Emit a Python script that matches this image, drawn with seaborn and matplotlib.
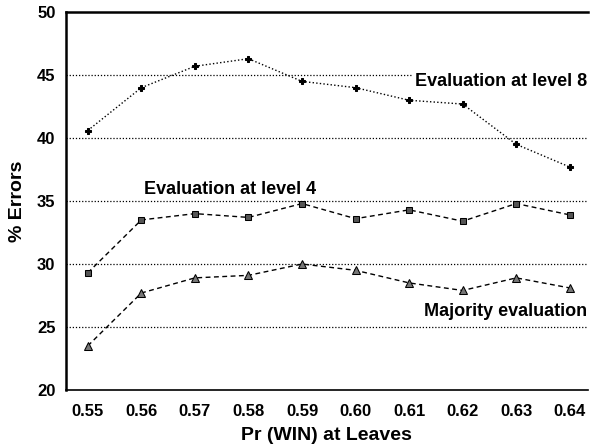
import numpy as np
import pandas as pd
import seaborn as sns
import matplotlib.pyplot as plt

# values
pr_win = [0.55, 0.56, 0.57, 0.58, 0.59, 0.60, 0.61, 0.62, 0.63, 0.64]
level8 = [40.6, 44.0, 45.7, 46.3, 44.5, 44.0, 43.0, 42.7, 39.5, 37.7]
level4 = [29.3, 33.5, 34.0, 33.7, 34.8, 33.6, 34.3, 33.4, 34.8, 33.9]
majority = [23.5, 27.7, 28.9, 29.1, 30.0, 29.5, 28.5, 27.9, 28.9, 28.1]
tick_labels = [f'{v:.2f}' for v in pr_win]

sns.set_style('white')
plt.rcParams['font.family'] = ['Liberation Sans', 'DejaVu Sans']
plt.rcParams['font.weight'] = 'bold'
plt.rcParams['text.color'] = 'black'
plt.rcParams['axes.labelcolor'] = 'black'

fig = plt.figure(figsize=(5.93, 4.48), dpi=100)
ax = fig.add_axes([0.111, 0.1295, 0.8806, 0.8435])

for yv in [25, 30, 35, 40, 45]:
    ax.axhline(yv, color='black', lw=0.9, ls=(0, (1, 1.5)), zorder=0)

sns.lineplot(x=pr_win, y=level8, ax=ax, color='black', lw=1.0,
             ls=(0, (1, 1.6)), marker='P', markersize=5, markeredgecolor='black')
sns.lineplot(x=pr_win, y=level4, ax=ax, color='black', lw=1.0,
             ls=(0, (3.5, 2.5)), marker='s', markersize=5,
             markerfacecolor='#555555', markeredgecolor='black')
sns.lineplot(x=pr_win, y=majority, ax=ax, color='black', lw=1.0,
             ls=(0, (3.5, 2.5)), marker='^', markersize=6,
             markerfacecolor='#777777', markeredgecolor='black')

ax.text(0.6432, 44.5, 'Evaluation at level 8', ha='right', va='center',
        fontsize=13, fontweight='bold',
        bbox=dict(facecolor='white', edgecolor='none', pad=1))
ax.text(0.5765, 35.9, 'Evaluation at level 4', ha='center', va='center',
        fontsize=13, fontweight='bold')
ax.text(0.6432, 26.2, 'Majority evaluation', ha='right', va='center',
        fontsize=13, fontweight='bold')

ax.set_xlim(0.5459, 0.6434)
ax.set_ylim(20, 50)
ax.set_xticks(pr_win)
ax.set_xticklabels(tick_labels)
ax.set_yticks([20, 25, 30, 35, 40, 45, 50])
ax.tick_params(axis='both', direction='out', length=4, width=1,
               labelsize=12, colors='black')
ax.tick_params(axis='x', pad=6)
for lab in ax.get_xticklabels() + ax.get_yticklabels():
    lab.set_fontweight('bold')

ax.set_xlabel('Pr (WIN) at Leaves', fontsize=14, fontweight='bold', labelpad=6)
ax.set_ylabel('% Errors', fontsize=14, fontweight='bold', labelpad=8)

for side in ['left', 'bottom', 'top']:
    ax.spines[side].set_color('black')
ax.spines['left'].set_linewidth(1.8)
ax.spines['bottom'].set_linewidth(1.2)
ax.spines['top'].set_linewidth(1.8)
ax.spines['right'].set_visible(False)

fig.savefig('out.png', dpi=100)
